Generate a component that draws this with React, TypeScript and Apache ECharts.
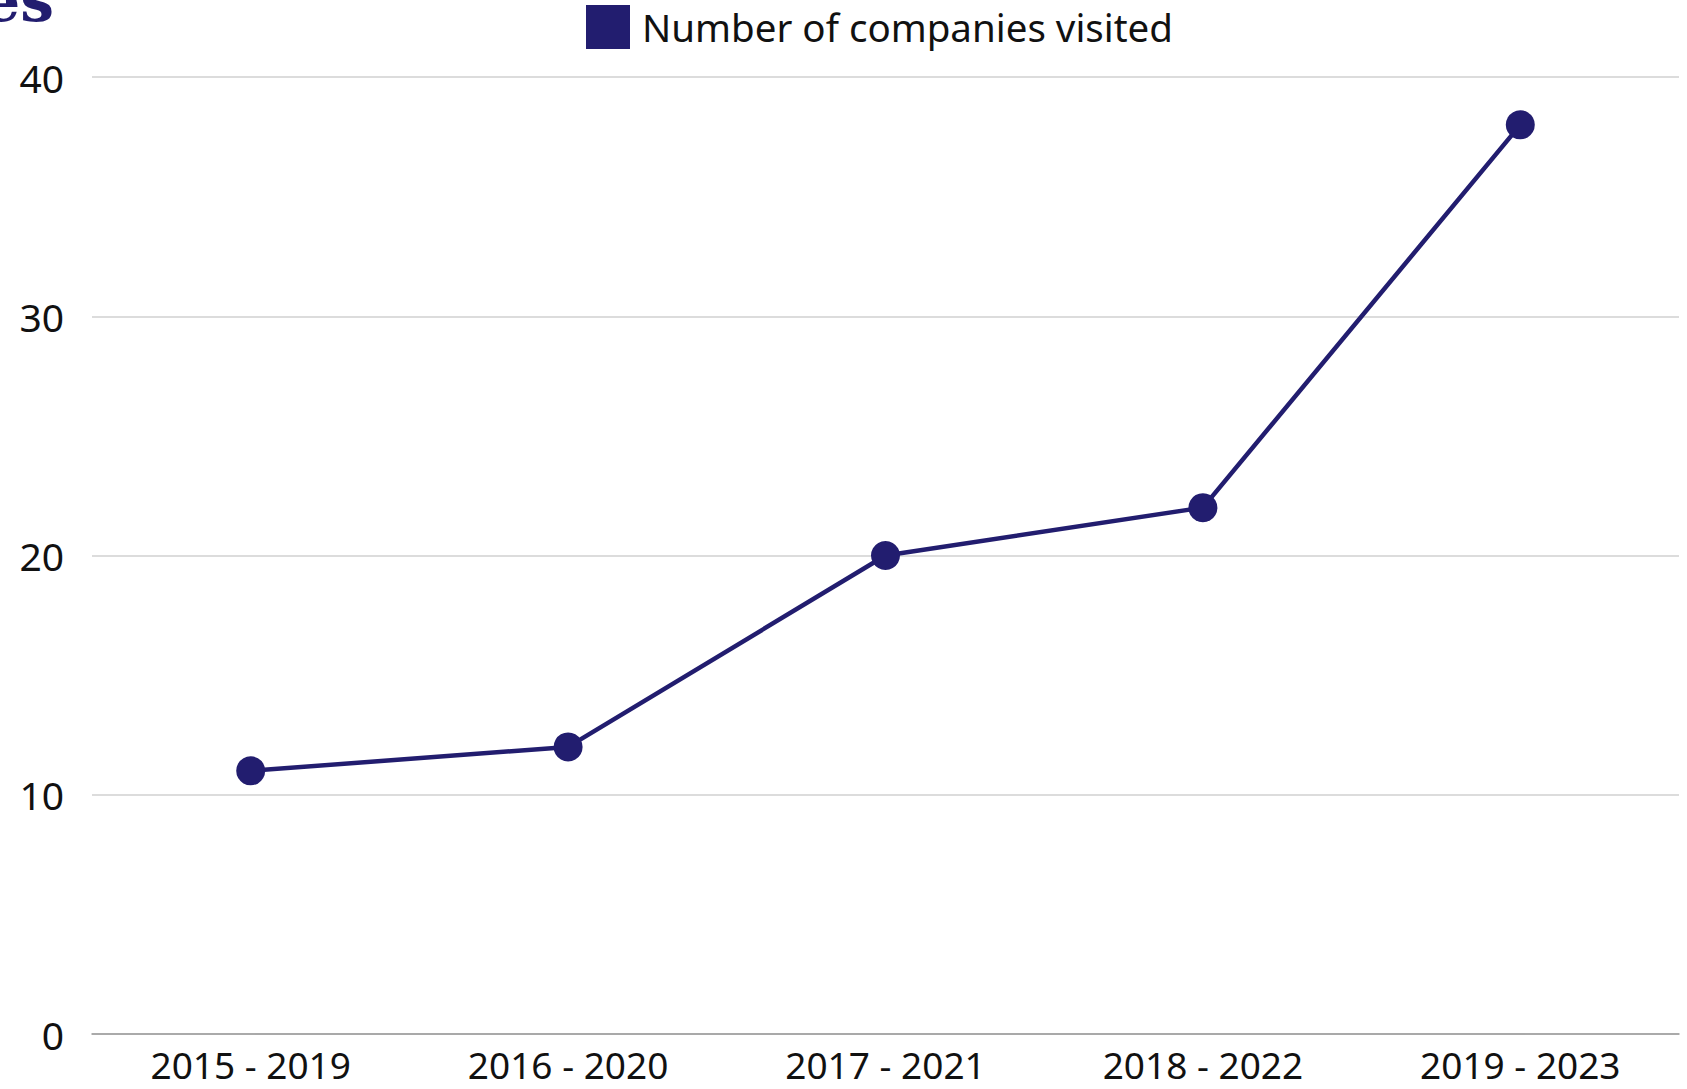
import React, { useEffect, useRef } from "react";
import * as echarts from "echarts";

const categories = ["2015 - 2019", "2016 - 2020", "2017 - 2021", "2018 - 2022", "2019 - 2023"];
const companiesVisited = [11, 12, 20, 22, 38];
const seriesName = "Number of companies visited";
const yTicks = { min: 0, max: 40, interval: 10 };

const NAVY = "#221d6f";
const FONT = "'Noto Sans', sans-serif";

export default function App() {
  const ref = useRef<HTMLDivElement>(null);
  useEffect(() => {
    document.body.style.margin = "0";
    const chart = echarts.init(ref.current!, null, { renderer: "svg" });
    chart.setOption({
      animation: false,
      backgroundColor: "#ffffff",
      legend: {
        top: 5,
        left: 586,
        padding: 0,
        itemWidth: 44,
        itemHeight: 44,
        icon: "rect",
        textStyle: { fontFamily: FONT, fontSize: 38.5, color: "#111", padding: [0, 0, 0, 7] },
        data: [{ name: seriesName, icon: "rect", itemStyle: { color: NAVY } }],
      },
      graphic: [
        {
          type: "text",
          x: 54,
          y: 30,
          style: {
            text: "es",
            textAlign: "right",
            textVerticalAlign: "bottom",
            font: "bold 60px 'DejaVu Serif', serif",
            fill: NAVY,
          },
        },
      ],
      grid: { left: 92, right: 8, top: 77, bottom: 55, containLabel: false },
      xAxis: {
        type: "category",
        data: categories,
        boundaryGap: true,
        axisLine: { show: true, lineStyle: { color: "#999", width: 1.5 } },
        axisTick: { show: false },
        axisLabel: { fontFamily: FONT, fontSize: 37, lineHeight: 34, color: "#111", margin: 13 },
      },
      yAxis: {
        type: "value",
        min: yTicks.min,
        max: yTicks.max,
        interval: yTicks.interval,
        axisLine: { show: false },
        axisTick: { show: false },
        splitLine: { lineStyle: { color: "#d0d0d0", width: 1.5 } },
        axisLabel: { fontFamily: FONT, fontSize: 39, color: "#111", margin: 28 },
      },
      series: [
        {
          name: seriesName,
          type: "line",
          data: companiesVisited,
          symbol: "circle",
          symbolSize: 29,
          itemStyle: { color: NAVY },
          lineStyle: { color: NAVY, width: 4.5 },
        },
      ],
    });
    return () => chart.dispose();
  }, []);
  return <div ref={ref} style={{ width: 1687, height: 1089 }} />;
}
